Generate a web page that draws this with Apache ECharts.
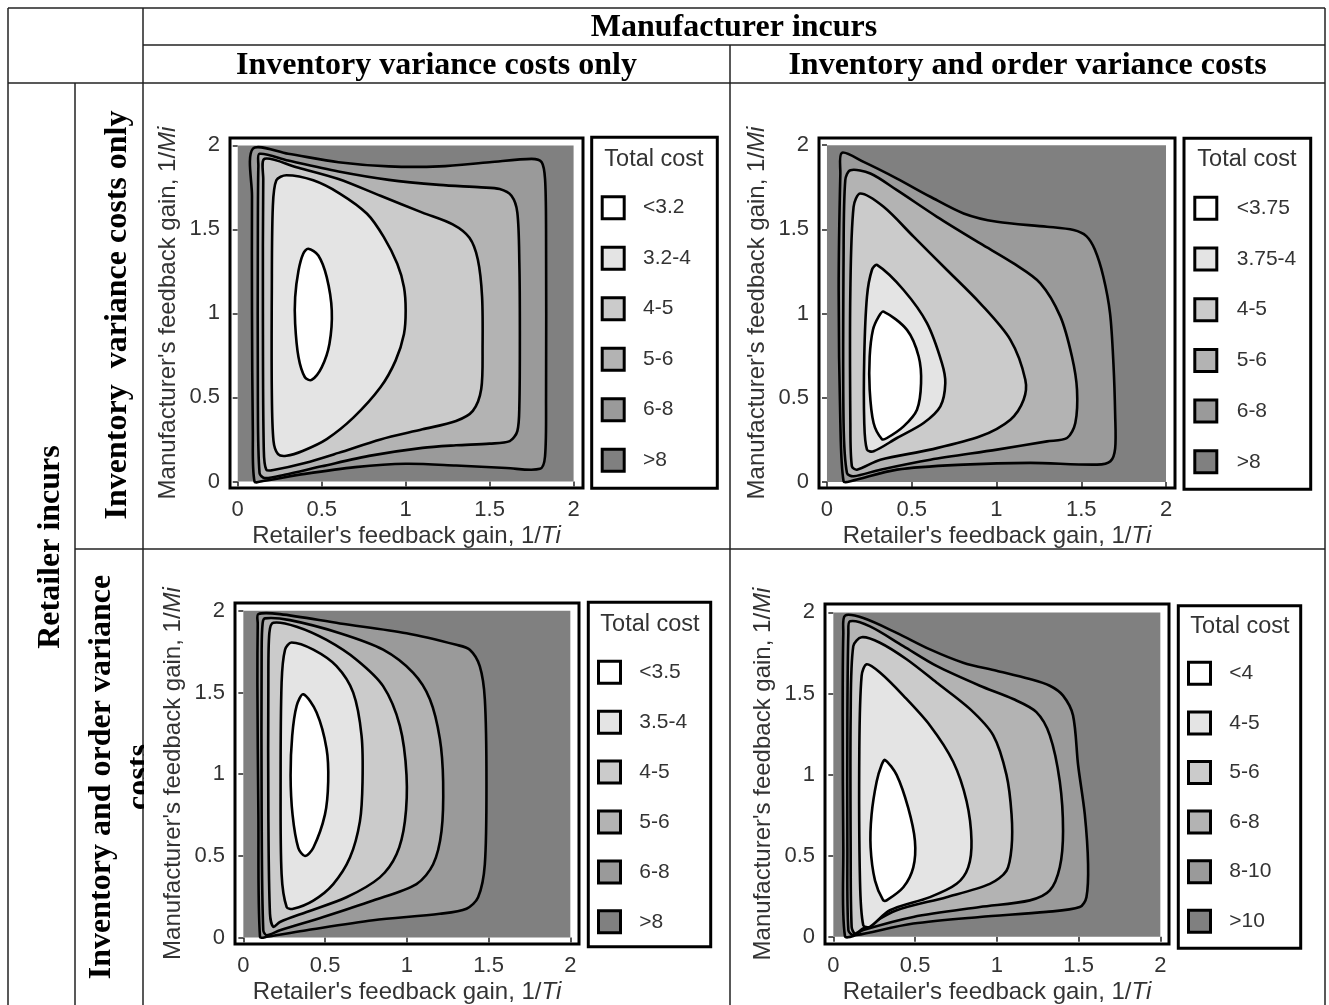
<!DOCTYPE html>
<html><head><meta charset="utf-8">
<script src="https://cdn.jsdelivr.net/npm/echarts@6/dist/echarts.min.js"></script>
<style>html,body{margin:0;padding:0;background:#fff}#chart{width:1329px;height:1005px}</style>
</head><body><div id="chart"></div>
<script>
// ---------------- DATA ----------------
const topHeader = 'Manufacturer incurs';
const colHeaders = ['Inventory variance costs only', 'Inventory and order variance costs'];
const sideHeader = 'Retailer incurs';
const rowHeaders = ['Inventory  variance costs only', 'Inventory and order variance\ncosts'];
const xTicks = [0, 0.5, 1, 1.5, 2];
const yTicks = [0, 0.5, 1, 1.5, 2];
const plotDomain = [[0, 0], [2, 2]];
const legendTitle = 'Total cost';
const legendTL = ['<3.2', '3.2-4', '4-5', '5-6', '6-8', '>8'];
const legendTR = ['<3.75', '3.75-4', '4-5', '5-6', '6-8', '>8'];
const legendBL = ['<3.5', '3.5-4', '4-5', '5-6', '6-8', '>8'];
const legendBR = ['<4', '4-5', '5-6', '6-8', '8-10', '>10'];
// contour lines (innermost = 1), [1/Ti, 1/Mi]
const tl1 = [[.42,1.385],[.48,1.345],[.53,1.216],[.56,1.017],[.546,.818],[.50,.679],[.44,.604],[.40,.62],[.362,.739],[.342,.938],[.342,1.097],[.362,1.255],[.39,1.355]];
const tl2 = [[.29,1.822],[.45,1.792],[.61,1.712],[.77,1.593],[.87,1.454],[.95,1.295],[.99,1.156],[1.0,1.017],[.99,.878],[.94,.719],[.85,.56],[.69,.381],[.53,.252],[.39,.183],[.29,.153],[.24,.163],[.213,.242],[.203,.54],[.203,1.136],[.209,1.633],[.23,1.792]];
const tl3 = [[.16,1.92],[.35,1.87],[.6,1.8],[.85,1.7],[1.1,1.6],[1.28,1.53],[1.38,1.45],[1.43,1.32],[1.455,1.1],[1.458,.8],[1.45,.55],[1.4,.42],[1.3,.36],[1.1,.31],[.85,.25],[.6,.17],[.4,.11],[.22,.07],[.17,.07],[.155,.2],[.15,1.0],[.152,1.8]];
const tl4 = [[.13,1.95],[.3,1.91],[.6,1.845],[.9,1.795],[1.2,1.765],[1.45,1.75],[1.56,1.74],[1.63,1.7],[1.665,1.6],[1.677,1.3],[1.68,.9],[1.677,.45],[1.665,.3],[1.62,.24],[1.5,.225],[1.3,.215],[1.1,.2],[.8,.155],[.5,.09],[.28,.04],[.16,.02],[.13,.05],[.12,.5],[.12,1.5],[.123,1.88]];
const tl5 = [[.09,1.98],[.3,1.95],[.6,1.9],[.9,1.875],[1.2,1.875],[1.5,1.9],[1.75,1.92],[1.81,1.9],[1.83,1.8],[1.836,1.5],[1.836,.5],[1.83,.15],[1.8,.075],[1.6,.08],[1.3,.095],[1.0,.105],[.7,.085],[.4,.045],[.15,.003],[.1,0],[.09,.3],[.085,1.0],[.085,1.7]];
const tr1 = [[.334,1.012],[.472,.903],[.541,.745],[.555,.587],[.531,.429],[.452,.33],[.354,.261],[.324,.255],[.275,.35],[.252,.547],[.252,.745],[.271,.903],[.305,.982]];
const tr2 = [[.295,1.289],[.452,1.14],[.59,.943],[.678,.706],[.698,.587],[.669,.449],[.57,.35],[.413,.261],[.275,.182],[.236,.192],[.22,.35],[.22,.745],[.236,1.101],[.265,1.259]];
const tr3 = [[.197,1.713],[.334,1.634],[.511,1.457],[.708,1.259],[.904,1.061],[1.082,.844],[1.17,.607],[1.16,.488],[1.082,.37],[.904,.271],[.61,.192],[.315,.132],[.177,.073],[.147,.093],[.138,.35],[.138,1.14],[.157,1.634]];
const tr4 = [[.138,1.852],[.256,1.832],[.413,1.733],[.649,1.575],[.904,1.417],[1.101,1.298],[1.259,1.18],[1.377,.982],[1.445,.745],[1.475,.547],[1.465,.35],[1.416,.261],[1.298,.241],[1.003,.192],[.61,.132],[.315,.073],[.157,.034],[.118,.053],[.098,.35],[.098,1.338],[.108,1.792]];
const tr5 = [[.088,1.955],[.216,1.901],[.413,1.802],[.61,1.694],[.806,1.595],[1.003,1.545],[1.298,1.516],[1.455,1.496],[1.53,1.46],[1.58,1.38],[1.63,1.22],[1.67,1.0],[1.69,.7],[1.70,.4],[1.70,.2],[1.672,.123],[1.593,.103],[1.2,.113],[.806,.103],[.413,.073],[.138,.004],[.098,.004],[.079,.35],[.069,1.14],[.079,1.832]];
const bl1 = [[.367,1.489],[.448,1.378],[.509,1.156],[.519,.954],[.499,.752],[.428,.549],[.377,.499],[.336,.549],[.301,.752],[.289,.994],[.299,1.236],[.326,1.418]];
const bl2 = [[.295,1.806],[.428,1.762],[.57,1.661],[.672,1.499],[.723,1.236],[.729,.954],[.713,.711],[.652,.489],[.55,.327],[.428,.226],[.305,.176],[.265,.186],[.234,.388],[.228,.954],[.234,1.56],[.255,1.762]];
const bl3 = [[.183,1.927],[.326,1.903],[.509,1.822],[.692,1.701],[.855,1.539],[.957,1.297],[.998,.994],[.988,.711],[.937,.509],[.835,.368],[.631,.246],[.387,.156],[.224,.095],[.183,.065],[.163,.145],[.153,.752],[.153,1.56],[.159,1.863]];
const bl4 = [[.132,1.954],[.285,1.943],[.591,1.863],[.855,1.762],[1.039,1.62],[1.141,1.459],[1.202,1.216],[1.222,.954],[1.212,.651],[1.161,.448],[1.059,.327],[.794,.226],[.489,.125],[.224,.044],[.143,.014],[.122,.044],[.112,.752],[.112,1.762],[.118,1.923]];
const bl5 = [[.092,1.98],[.224,1.98],[.591,1.923],[.998,1.863],[1.303,1.792],[1.385,1.762],[1.446,1.661],[1.477,1.459],[1.487,.954],[1.477,.448],[1.436,.246],[1.365,.176],[1.202,.145],[.794,.105],[.387,.044],[.143,.004],[.102,.004],[.092,.752],[.086,1.56],[.088,1.923]];
const br1 = [[.316,1.09],[.387,.998],[.458,.794],[.499,.591],[.489,.428],[.428,.305],[.326,.224],[.305,.224],[.255,.346],[.228,.55],[.234,.754],[.265,.957],[.295,1.059]];
const br2 = [[.204,1.68],[.285,1.629],[.428,1.487],[.591,1.303],[.733,1.079],[.815,.835],[.845,.591],[.825,.428],[.754,.326],[.591,.244],[.346,.163],[.224,.061],[.183,.071],[.163,.346],[.159,1.161],[.173,1.609]];
const br3 = [[.173,1.847],[.285,1.813],[.448,1.711],[.631,1.568],[.835,1.405],[.978,1.242],[1.059,.998],[1.09,.754],[1.09,.55],[1.059,.407],[.957,.326],[.692,.244],[.387,.163],[.183,.051],[.132,.02],[.112,.061],[.106,.55],[.106,1.365],[.122,1.792]];
const br4 = [[.102,1.945],[.224,1.914],[.428,1.792],[.631,1.67],[.896,1.548],[1.1,1.466],[1.242,1.385],[1.324,1.242],[1.385,.957],[1.405,.652],[1.385,.428],[1.324,.285],[1.202,.224],[.896,.183],[.489,.122],[.183,.041],[.122,.01],[.092,.041],[.086,.55],[.086,1.365],[.092,1.874]];
const br5 = [[.071,1.98],[.183,1.965],[.387,1.874],[.591,1.772],[.794,1.69],[.998,1.64],[1.202,1.589],[1.324,1.548],[1.405,1.487],[1.466,1.365],[1.497,1.059],[1.538,.754],[1.558,.448],[1.548,.244],[1.507,.183],[1.303,.153],[.896,.122],[.489,.081],[.143,.01],[.071,.004],[.061,.55],[.057,1.365],[.061,1.874]];

// ---------------- STYLE / LAYOUT ----------------
const levelFills = ['#ffffff', '#e4e4e4', '#cbcbcb', '#b3b3b3', '#9a9a9a', '#808080'];
const SANS = "'Liberation Sans', Arial, Helvetica, sans-serif";
const SERIF = "'Liberation Serif', 'Times New Roman', serif";
const TXT = '#333';
const panels = [
  { grid: {left: 230, top: 138, width: 353, height: 350}, x: [-0.046, 2.056], y: [-0.039, 2.044], contours: [tl5, tl4, tl3, tl2, tl1], legend: legendTL,
    box: [591.7, 137.3, 125.6, 351], title: [654, 160], sq: 613.2, items: [207.7, 50.5], tx: 643 },
  { grid: {left: 819, top: 138, width: 356, height: 350}, x: [-0.047, 2.053], y: [-0.036, 2.043], contours: [tr5, tr4, tr3, tr2, tr1], legend: legendTR,
    box: [1184, 138.3, 126.7, 351], title: [1247, 160], sq: 1205.8, items: [208.3, 50.7], tx: 1236.7 },
  { grid: {left: 235, top: 603, width: 344, height: 345}, x: [-0.051, 2.053], y: [-0.04, 2.048], contours: [bl5, bl4, bl3, bl2, bl1], legend: legendBL,
    box: [588.3, 602.3, 122.4, 344.4], title: [650, 625], sq: 609.5, items: [672.3, 49.9], tx: 639.3 },
  { grid: {left: 825, top: 604, width: 344, height: 343}, x: [-0.051, 2.053], y: [-0.045, 2.052], contours: [br5, br4, br3, br2, br1], legend: legendBR,
    box: [1178.3, 605.7, 122.4, 342.6], title: [1240, 627], sq: 1199.5, items: [673.3, 49.6], tx: 1229.3 }
];

const grids = [], xAxes = [], yAxes = [], series = [], graphics = [];
const axisTextStyle = {fontFamily: SANS, fontSize: 24, color: TXT, rich: {it: {fontFamily: SANS, fontSize: 24, color: TXT, fontStyle: 'italic'}}};

panels.forEach((p, i) => {
  grids.push(Object.assign({show: true, borderColor: '#000', borderWidth: 3, backgroundColor: '#fff'}, p.grid));
  xAxes.push({
    type: 'value', gridIndex: i, min: p.x[0], max: p.x[1],
    name: "Retailer's feedback gain, 1/{it|Ti}", nameLocation: 'middle', nameGap: 36, nameTextStyle: axisTextStyle,
    axisLine: {show: false}, splitLine: {show: false},
    axisTick: {show: true, customValues: xTicks, length: 5, lineStyle: {color: '#222', width: 1.5}},
    axisLabel: {customValues: xTicks, margin: 11, fontFamily: SANS, fontSize: 22, color: TXT}
  });
  yAxes.push({
    type: 'value', gridIndex: i, min: p.y[0], max: p.y[1],
    name: "Manufacturer's feedback gain, 1/{it|Mi}", nameLocation: 'middle', nameGap: 50, nameTextStyle: axisTextStyle,
    axisLine: {show: false}, splitLine: {show: false},
    axisTick: {show: true, customValues: yTicks, length: 5, lineStyle: {color: '#222', width: 1.5}},
    axisLabel: {customValues: yTicks, margin: 10, fontFamily: SANS, fontSize: 22, color: TXT}
  });
  // background (highest cost level) over the plotted domain
  series.push({
    type: 'custom', xAxisIndex: i, yAxisIndex: i, data: plotDomain, silent: true, z: 2,
    renderItem: (params, api) => {
      if (params.dataIndex !== 0) return null;
      const a = api.coord(plotDomain[0]), b = api.coord(plotDomain[1]);
      return {type: 'rect', z2: 0, shape: {x: a[0], y: b[1], width: b[0] - a[0], height: a[1] - b[1]}, style: {fill: levelFills[5]}};
    }
  });
  p.contours.forEach((c, k) => {
    const fill = levelFills[4 - k];
    series.push({
      type: 'custom', xAxisIndex: i, yAxisIndex: i, data: c, silent: true, z: 2,
      renderItem: (params, api) => {
        if (params.dataIndex !== 0) return null;
        const pts = c.map(pt => api.coord(pt));
        return {type: 'polygon', z2: k + 1, shape: {points: pts, smooth: 0.3}, style: {fill: fill, stroke: '#000', lineWidth: 2.6}};
      }
    });
  });
  // legend box
  graphics.push({type: 'rect', shape: {x: p.box[0], y: p.box[1], width: p.box[2], height: p.box[3]}, style: {fill: '#fff', stroke: '#000', lineWidth: 3}, z: 10});
  graphics.push({type: 'text', x: p.title[0], y: p.title[1], style: {text: legendTitle, font: '23.5px ' + SANS, fill: TXT, align: 'center', verticalAlign: 'middle'}, z: 11});
  p.legend.forEach((lab, j) => {
    const cy = p.items[0] + j * p.items[1];
    graphics.push({type: 'rect', shape: {x: p.sq - 11, y: cy - 11, width: 22, height: 22}, style: {fill: levelFills[j], stroke: '#000', lineWidth: 3}, z: 11});
    graphics.push({type: 'text', x: p.tx, y: cy, style: {text: lab, font: '21px ' + SANS, fill: TXT, align: 'left', verticalAlign: 'middle'}, z: 11});
  });
});

// table lines
const LC = '#222';
const tableLines = [
  [8, 8, 1325, 8], [143, 45, 1325, 45], [8, 83, 1325, 83], [75, 549, 1325, 549],
  [8, 8, 8, 1005], [75, 83, 75, 1005], [143, 8, 143, 1005], [730, 45, 730, 1005], [1325, 8, 1325, 1005]
];
tableLines.forEach(l => graphics.push({type: 'line', shape: {x1: l[0], y1: l[1], x2: l[2], y2: l[3]}, style: {stroke: LC, lineWidth: 1.5}, z: 20}));
const hFont = 'bold 32px ' + SERIF;
graphics.push({type: 'text', x: 734, y: 28, style: {text: topHeader, font: hFont, fill: '#000', align: 'center', verticalAlign: 'middle'}, z: 20});
graphics.push({type: 'text', x: 436.5, y: 66, style: {text: colHeaders[0], font: hFont, fill: '#000', align: 'center', verticalAlign: 'middle'}, z: 20});
graphics.push({type: 'text', x: 1027.5, y: 66, style: {text: colHeaders[1], font: hFont, fill: '#000', align: 'center', verticalAlign: 'middle'}, z: 20});
graphics.push({type: 'text', x: 51, y: 547, rotation: Math.PI / 2, style: {text: sideHeader, font: hFont, fill: '#000', align: 'center', verticalAlign: 'middle'}, z: 20});
graphics.push({type: 'text', x: 118, y: 315, rotation: Math.PI / 2, style: {text: rowHeaders[0], font: hFont, fill: '#000', align: 'center', verticalAlign: 'middle'}, z: 20});
graphics.push({type: 'text', x: 121, y: 777, rotation: Math.PI / 2, style: {text: rowHeaders[1], font: hFont, fill: '#000', align: 'center', verticalAlign: 'middle', lineHeight: 38}, z: 20});
// cell clipping of the overflowing word
graphics.push({type: 'rect', shape: {x: 144, y: 720, width: 9, height: 110}, style: {fill: '#fff'}, z: 21});

const chart = echarts.init(document.getElementById('chart'), null, {renderer: 'canvas', width: 1329, height: 1005});
chart.setOption({
  animation: false,
  backgroundColor: '#fff',
  grid: grids, xAxis: xAxes, yAxis: yAxes, series: series, graphic: graphics
});
</script></body></html>
